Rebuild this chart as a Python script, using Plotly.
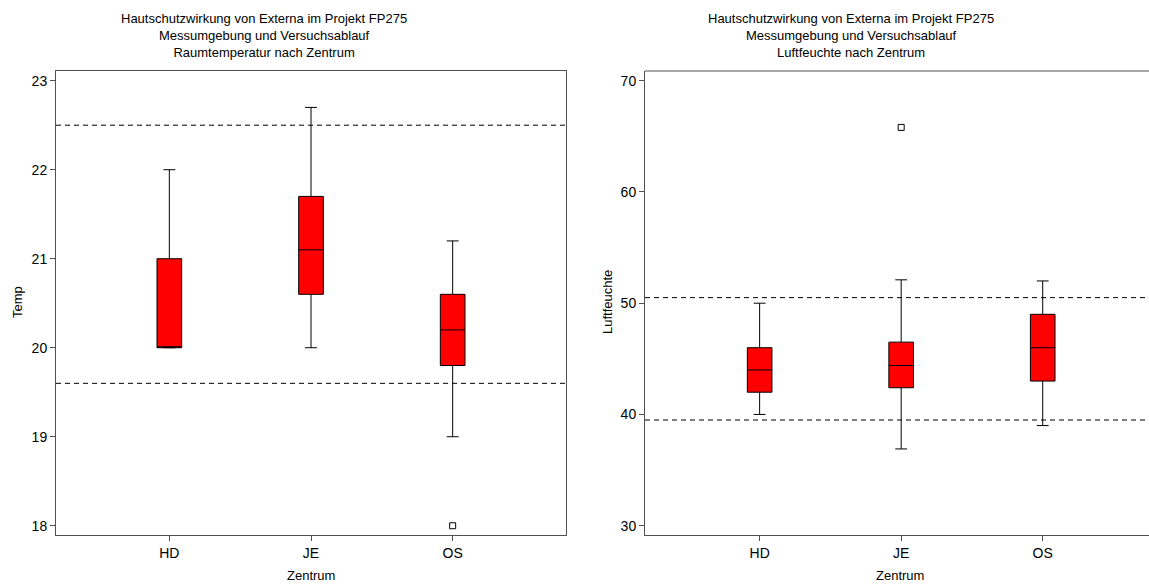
import plotly.graph_objects as go

# ---- data ----
centers = ["HD", "JE", "OS"]

temp_lower = [20.0, 20.0, 19.0]
temp_q1 = [20.0, 20.6, 19.8]
temp_median = [20.0, 21.1, 20.2]
temp_q3 = [21.0, 21.7, 20.6]
temp_upper = [22.0, 22.7, 21.2]
temp_out_x = ["OS"]
temp_out_y = [18.0]
temp_limits = [22.5, 19.6]

hum_lower = [40.0, 36.9, 39.0]
hum_q1 = [42.0, 42.4, 43.0]
hum_median = [44.0, 44.4, 46.0]
hum_q3 = [46.0, 46.5, 49.0]
hum_upper = [50.0, 52.1, 52.0]
hum_out_x = ["JE"]
hum_out_y = [65.8]
hum_limits = [50.5, 39.5]

title_lines_common = ["Hautschutzwirkung von Externa im Projekt FP275",
                      "Messumgebung und Versuchsablauf"]
title_left = "Raumtemperatur nach Zentrum"
title_right = "Luftfeuchte nach Zentrum"

W, H = 1149, 584
FONT = "Arial, 'Liberation Sans', sans-serif"
AXC = "#505050"


def px_x(p):
    return p / W


def px_y(p):
    return 1 - p / H


fig = go.Figure()

fig.add_trace(go.Box(
    x=centers, q1=temp_q1, median=temp_median, q3=temp_q3,
    lowerfence=temp_lower, upperfence=temp_upper,
    fillcolor="#FF0000", line=dict(color="black", width=1),
    width=0.174, whiskerwidth=0.48, boxpoints=False,
    xaxis="x", yaxis="y", showlegend=False, hoverinfo="skip"))
fig.add_trace(go.Scatter(
    x=temp_out_x, y=temp_out_y, mode="markers",
    marker=dict(symbol="square-open", size=6, color="black", line=dict(width=1)),
    xaxis="x", yaxis="y", showlegend=False))

fig.add_trace(go.Box(
    x=centers, q1=hum_q1, median=hum_median, q3=hum_q3,
    lowerfence=hum_lower, upperfence=hum_upper,
    fillcolor="#FF0000", line=dict(color="black", width=1),
    width=0.174, whiskerwidth=0.48, boxpoints=False,
    xaxis="x2", yaxis="y2", showlegend=False, hoverinfo="skip"))
fig.add_trace(go.Scatter(
    x=hum_out_x, y=hum_out_y, mode="markers",
    marker=dict(symbol="square-open", size=6, color="black", line=dict(width=1)),
    xaxis="x2", yaxis="y2", showlegend=False))

shapes = []
for v in temp_limits:
    shapes.append(dict(type="line", xref="x domain", x0=0, x1=1, yref="y", y0=v, y1=v,
                       line=dict(color="black", width=1, dash="5px,4px")))
for v in hum_limits:
    shapes.append(dict(type="line", xref="x2 domain", x0=0, x1=1, yref="y2", y0=v, y1=v,
                       line=dict(color="black", width=1, dash="5px,4px")))
# top border of right panel (right border falls off the page)
shapes.append(dict(type="line", xref="x2 domain", x0=0, x1=1, yref="y2 domain", y0=1, y1=1,
                   line=dict(color=AXC, width=1)))

ydom = [px_y(535), px_y(71)]
common_x = dict(type="category", showgrid=False, zeroline=False, showline=True,
                linecolor=AXC, linewidth=1, ticks="outside", ticklen=5, tickcolor=AXC,
                tickfont=dict(family=FONT, size=14, color="black"), fixedrange=True)
common_y = dict(showgrid=False, zeroline=False, showline=True, linecolor=AXC, linewidth=1,
                ticks="outside", ticklen=5, tickcolor=AXC,
                tickfont=dict(family=FONT, size=14, color="black"))

annotations = []
for xc, t in [(264, title_left), (851, title_right)]:
    annotations.append(dict(text="<br>".join(title_lines_common + [t]), xref="paper", yref="paper",
                            x=px_x(xc), y=px_y(9), xanchor="center", yanchor="top",
                            showarrow=False, align="center",
                            font=dict(family=FONT, size=13, color="black")))
for xc in [311, 900]:
    annotations.append(dict(text="Zentrum", xref="paper", yref="paper", x=px_x(xc), y=px_y(575),
                            xanchor="center", yanchor="middle", showarrow=False,
                            font=dict(family=FONT, size=13, color="black")))
annotations.append(dict(text="Temp", xref="paper", yref="paper", x=px_x(17), y=px_y(302),
                        xanchor="center", yanchor="middle", textangle=-90, showarrow=False,
                        font=dict(family=FONT, size=13, color="black")))
annotations.append(dict(text="Luftfeuchte", xref="paper", yref="paper", x=px_x(607), y=px_y(302),
                        xanchor="center", yanchor="middle", textangle=-90, showarrow=False,
                        font=dict(family=FONT, size=13, color="black")))

fig.update_layout(
    width=W, height=H, margin=dict(l=0, r=0, t=0, b=0),
    paper_bgcolor="white", plot_bgcolor="white",
    xaxis=dict(common_x, domain=[px_x(56), px_x(566)], range=[-0.8, 2.8], mirror=True, anchor="y"),
    yaxis=dict(common_y, domain=ydom, range=[17.896, 23.109], tickvals=[18, 19, 20, 21, 22, 23],
               mirror=True, anchor="x"),
    xaxis2=dict(common_x, domain=[px_x(645), 1.0], range=[-0.81, 2.751], anchor="y2"),
    yaxis2=dict(common_y, domain=ydom, range=[29.164, 70.87], tickvals=[30, 40, 50, 60, 70],
                anchor="x2"),
    shapes=shapes, annotations=annotations, showlegend=False,
    font=dict(family=FONT, size=13, color="black"),
)

fig.write_html("out.html")
